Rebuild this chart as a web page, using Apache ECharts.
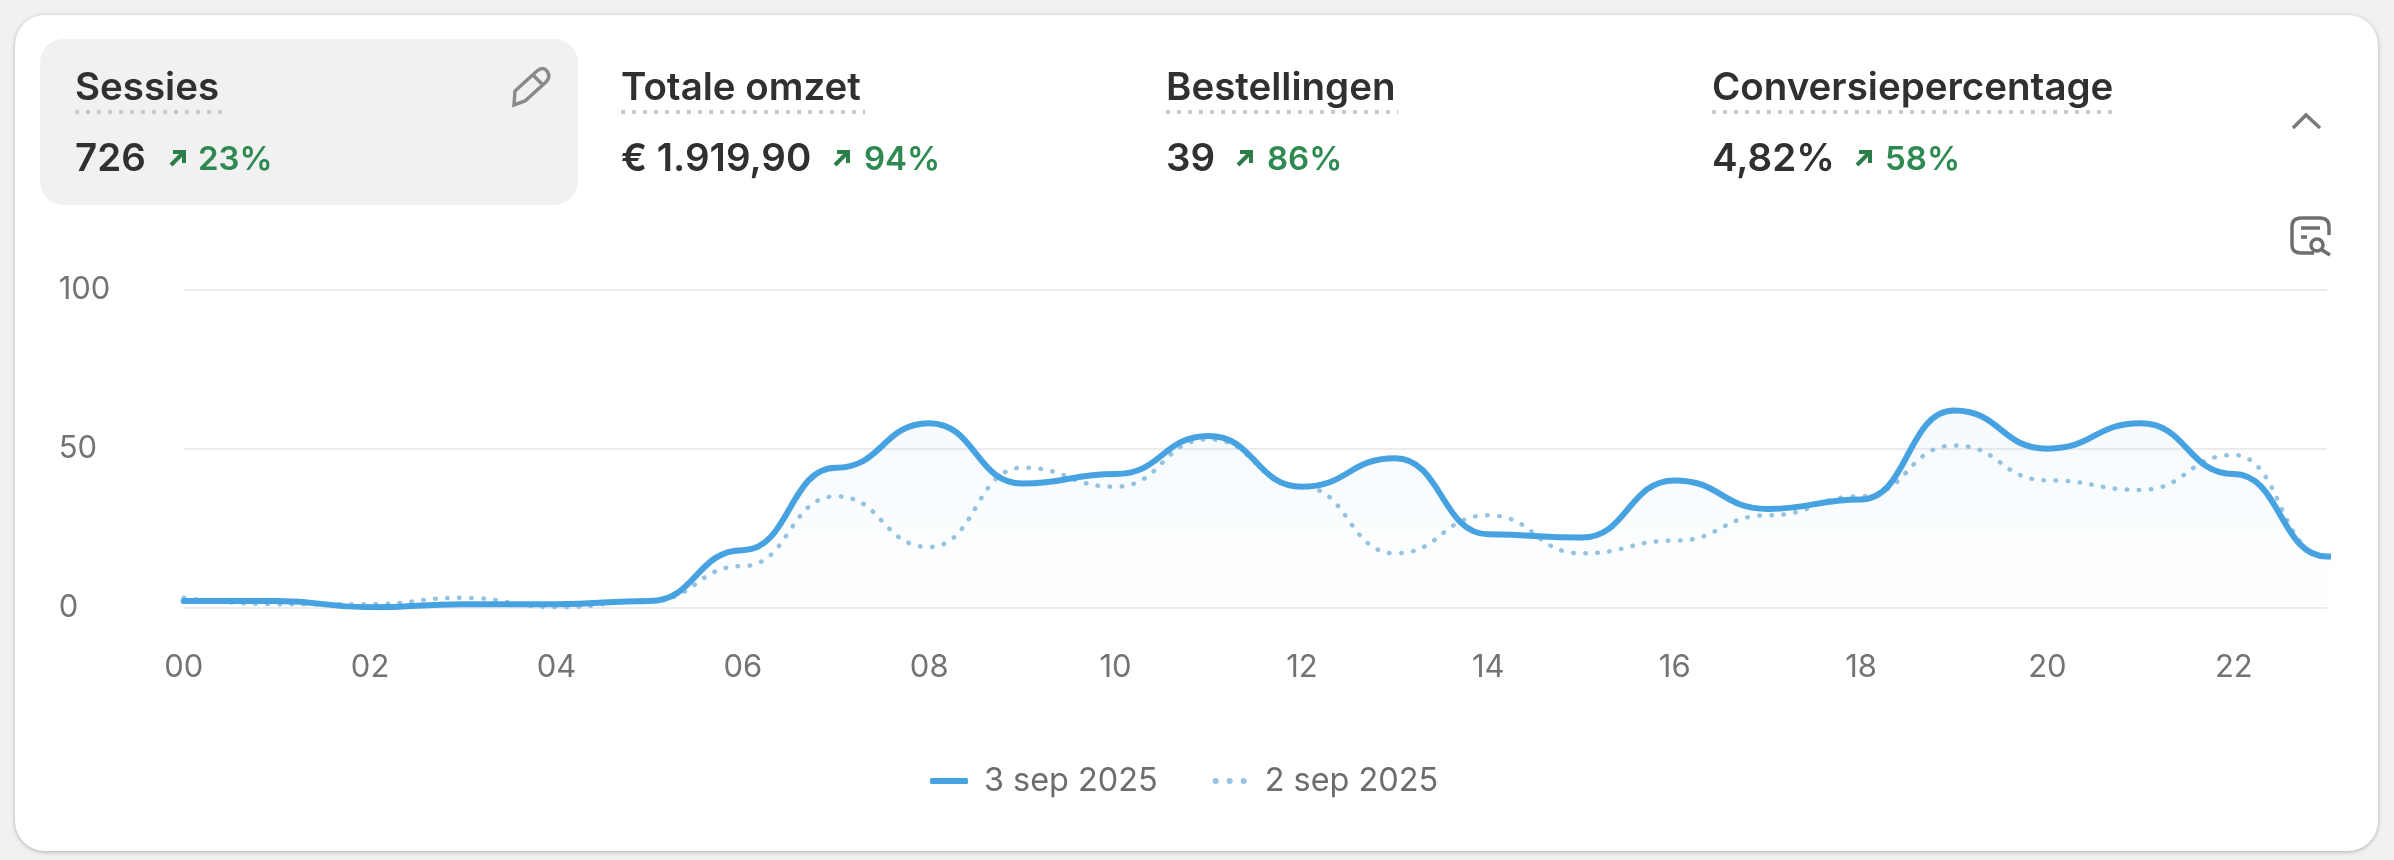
<!DOCTYPE html>
<html><head><meta charset="utf-8">
<style>html,body{margin:0;padding:0;background:#f1f1f1}#c{width:2394px;height:860px}</style>
<script src="https://cdn.jsdelivr.net/npm/echarts@6/dist/echarts.min.js"></script>
</head><body><div id="c"></div>
<script>
const hours = ['00','01','02','03','04','05','06','07','08','09','10','11','12','13','14','15','16','17','18','19','20','21','22','23'];
const currentDay = [2,2,0,1,1,2,18,44,58,39,42,54,38,47,23,22,40,31,34,62,50,58,42,16];
const previousDay = [3,1,1,3,0,2,13,35,19,44,38,53,38,17,29,17,21,29,35,51,40,37,48,16];
const seriesNames = ['3 sep 2025','2 sep 2025'];
const yTicks = [0,50,100];
const metricNames = ['Sessies','Totale omzet','Bestellingen','Conversiepercentage'];
const metricValues = ['726','€ 1.919,90','39','4,82%'];
const metricDeltas = ['23%','94%','86%','58%'];

const FONT = 'Inter, "Noto Sans", sans-serif';
const layoutX = [75,621,1166,1712];
const nameW = [147,244,232,400];
const arrowX = [170,834,1237,1856];
const deltaX = [198,864,1267,1885];
echarts.graphic.registerShape('pencilIcon', echarts.graphic.extendPath('M514 105 L515 91 L537 71 Q543 66 547 71 Q551 77 546 82 L525 101 Z M533 75 L543 85'));
echarts.graphic.registerShape('searchDocIcon', echarts.graphic.extendPath('M2314 253 L2301 253 Q2292 253 2292 245 L2292 227 Q2292 218 2301 218 L2320 218 Q2329 218 2329 227 L2329 235 M2301 228 L2320 228 M2301 237 L2307 237 M2323 245 A6 6 0 1 1 2311 245 A6 6 0 1 1 2323 245 M2322 250 L2330 255'));
const g = [];
g.push({type:'rect',z:-20,silent:true,shape:{x:15,y:15,width:2363,height:836,r:30},
  style:{fill:'#fff',shadowBlur:4,shadowColor:'rgba(0,0,0,0.28)',shadowOffsetY:1}});
g.push({type:'rect',z:-19,silent:true,shape:{x:40,y:39,width:538,height:166,r:24},style:{fill:'#f1f1f1'}});
metricNames.forEach((n,i)=>{
  g.push({type:'text',z:5,silent:true,style:{text:n,x:layoutX[i],y:88,font:'600 38.5px '+FONT,fill:'#303030',verticalAlign:'middle'}});
  g.push({type:'line',z:5,silent:true,shape:{x1:layoutX[i],y1:112,x2:layoutX[i]+nameW[i],y2:112},
    style:{stroke:'#c9c9c9',lineWidth:4,lineDash:[4,7]}});
  g.push({type:'text',z:5,silent:true,style:{text:metricValues[i],x:layoutX[i],y:159,font:'600 38.5px '+FONT,fill:'#303030',verticalAlign:'middle'}});
  const ax = arrowX[i];
  g.push({type:'polyline',z:5,silent:true,shape:{points:[[ax+1,165],[ax+14,152]]},style:{stroke:'#2c7d4a',lineWidth:4,fill:null}});
  g.push({type:'polyline',z:5,silent:true,shape:{points:[[ax+3,152],[ax+14,152],[ax+14,163]]},style:{stroke:'#2c7d4a',lineWidth:4,fill:null}});
  g.push({type:'text',z:5,silent:true,style:{text:metricDeltas[i],x:deltaX[i],y:160,font:'600 33px '+FONT,fill:'#2f8a52',verticalAlign:'middle'}});
});
g.push({type:'pencilIcon',z:5,silent:true,style:{stroke:'#8a8a8a',lineWidth:3.5,fill:null}});
g.push({type:'polyline',z:5,silent:true,shape:{points:[[2293,128],[2306,115],[2320,128]]},style:{stroke:'#7a7a7a',lineWidth:3.5,fill:null}});
g.push({type:'searchDocIcon',z:5,silent:true,style:{stroke:'#6f6f6f',lineWidth:3.5,fill:null}});

const dots = 'path://M3 0a3 3 0 1 0 0.01 0z M17 0a3 3 0 1 0 0.01 0z M31 0a3 3 0 1 0 0.01 0z';
const chart = echarts.init(document.getElementById('c'),null,{renderer:'canvas'});
chart.setOption({
  animation:false,
  backgroundColor:'#f1f1f1',
  textStyle:{fontFamily:FONT},
  graphic:{elements:g},
  grid:{left:183.7,right:67,top:290,bottom:252.7,containLabel:false},
  legend:{
    left:925,top:760,itemWidth:38,itemHeight:6,itemGap:55,
    data:[{name:seriesNames[0],icon:'roundRect'},{name:seriesNames[1],icon:dots}],
    textStyle:{fontSize:32.4,color:'#6d6d6d',fontFamily:FONT,padding:[0,0,0,11]}
  },
  xAxis:{type:'category',boundaryGap:false,data:hours.concat(''),max:23,
    axisLine:{show:false},axisTick:{show:false},
    axisLabel:{interval:(i)=>i%2===0 && i<23,fontSize:31,color:'#737373',margin:45,fontFamily:FONT}},
  yAxis:{type:'value',min:yTicks[0],max:yTicks[2],interval:yTicks[1],
    axisLine:{show:false},axisTick:{show:false},
    splitLine:{lineStyle:{color:'#ececec',width:2}},
    axisLabel:{fontSize:31,color:'#737373',align:'left',margin:125,padding:[0,0,8,0],fontFamily:FONT}},
  series:[
    {name:seriesNames[0],type:'line',data:currentDay.concat(currentDay[23]),smooth:0.5,smoothMonotone:'x',showSymbol:false,symbol:'none',z:4,
      lineStyle:{color:'#46a2e0',width:6,cap:'round'},itemStyle:{color:'#46a2e0'},
      areaStyle:{color:new echarts.graphic.LinearGradient(0,0,0,1,[{offset:0,color:'rgba(70,162,224,0.07)'},{offset:1,color:'rgba(70,162,224,0.01)'}])}},
    {name:seriesNames[1],type:'line',data:previousDay.concat(previousDay[23]),smooth:0.5,smoothMonotone:'x',showSymbol:false,symbol:'none',z:3,
      lineStyle:{color:'#96c3e1',width:4.5,type:[0.5,11.5],cap:'round'},itemStyle:{color:'#96c3e1'}}
  ]
});
</script></body></html>
